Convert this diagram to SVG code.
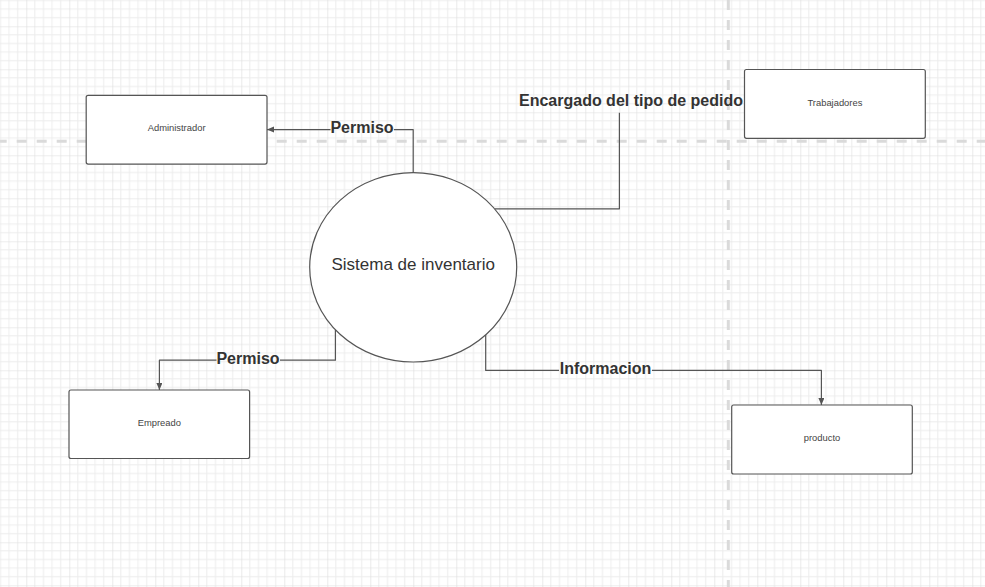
<svg xmlns="http://www.w3.org/2000/svg" width="985" height="587" viewBox="0 0 985 587">
<defs>
<pattern id="grid" x="26.3" y="26.3" width="43" height="43" patternUnits="userSpaceOnUse">
<path d="M8.6,0V43M17.2,0V43M25.8,0V43M34.4,0V43M0,8.6H43M0,17.2H43M0,25.8H43M0,34.4H43" stroke="#ececec" stroke-width="1" fill="none"/>
<path d="M0,0V43M0,0H43" stroke="#dcdcdc" stroke-width="1.2" fill="none"/>
</pattern>
<marker id="arr" markerUnits="userSpaceOnUse" markerWidth="8" markerHeight="8" refX="7" refY="3" orient="auto">
<path d="M0,0 L7,3 L0,6 z" fill="#555"/>
</marker>
<style>
.box{fill:#fff;stroke:#555;stroke-width:1.2}
.nt{font-family:"Liberation Sans",Arial,sans-serif;font-size:9.4px;fill:#444;text-anchor:middle}
.lbl{font-family:"Liberation Sans",Arial,sans-serif;font-size:16px;font-weight:bold;fill:#333;text-anchor:middle}
.ln{fill:none;stroke:#555;stroke-width:1.2;stroke-linejoin:round}
.guide{stroke:#dadada;stroke-width:3;stroke-dasharray:10 10;fill:none}
</style>
</defs>
<rect x="0" y="0" width="985" height="587" fill="#fff"/>
<rect x="0" y="0" width="985" height="587" fill="url(#grid)"/>
<g id="guides">
<line class="guide" x1="0" y1="141.3" x2="985" y2="141.3" stroke-dashoffset="3.3"/>
<line class="guide" x1="728.3" y1="0" x2="728.3" y2="587"/>
</g>
<g id="connectors">
<path class="ln" d="M413.2,173 V129.6 H394"/>
<path class="ln" d="M330.5,129.6 H267" marker-end="url(#arr)"/>
<path class="ln" d="M495,208.8 H619.4 V112.8"/>
<path class="ln" d="M335.4,330 V360.2 H280"/>
<path class="ln" d="M216.5,360.2 H159.4 V390" marker-end="url(#arr)"/>
<path class="ln" d="M485.7,335 V370.4 H559"/>
<path class="ln" d="M652,370.4 H821.4 V405" marker-end="url(#arr)"/>
<text class="lbl" x="362" y="133">Permiso</text>
<text class="lbl" x="631" y="106">Encargado del tipo de pedido</text>
<text class="lbl" x="248" y="364">Permiso</text>
<text class="lbl" x="605.5" y="374">Informacion</text>
</g>
<g id="sistema">
<ellipse cx="413.2" cy="267.3" rx="103.5" ry="94.7" fill="#fff" stroke="#555" stroke-width="1.2"/>
<text x="413.2" y="270" font-family="Liberation Sans, Arial, sans-serif" font-size="17" fill="#333" text-anchor="middle">Sistema de inventario</text>
</g>
<g id="administrador">
<rect class="box" x="86.2" y="95.3" width="180.8" height="68.8" rx="2"/>
<text class="nt" x="176.6" y="131.2">Administrador</text>
</g>
<g id="trabajadores">
<rect class="box" x="744.5" y="69.5" width="180.8" height="68.8" rx="2"/>
<text class="nt" x="834.9" y="105.8">Trabajadores</text>
</g>
<g id="empreado">
<rect class="box" x="69" y="390" width="180.6" height="68.5" rx="2"/>
<text class="nt" x="159.3" y="426">Empreado</text>
</g>
<g id="producto">
<rect class="box" x="731.7" y="405" width="180.6" height="69" rx="2"/>
<text class="nt" x="822" y="441.2">producto</text>
</g>
</svg>
